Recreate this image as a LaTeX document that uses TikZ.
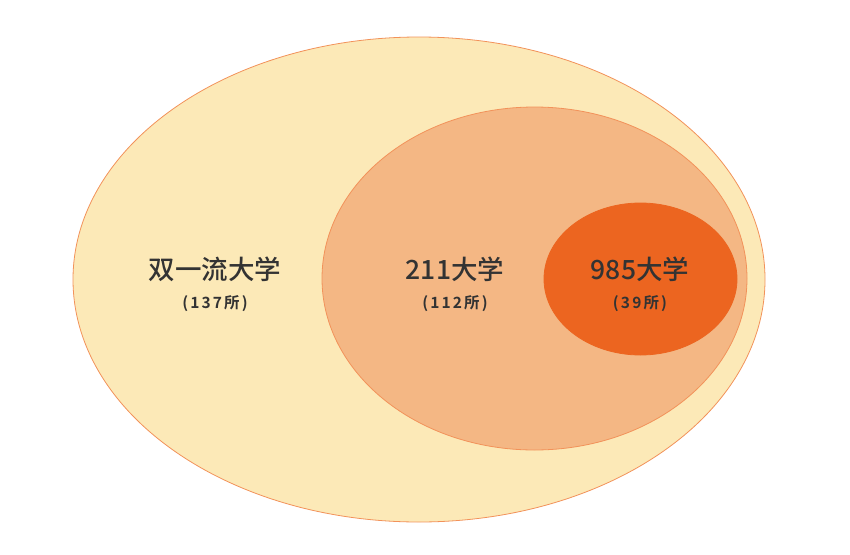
\documentclass[tikz,border=0pt]{standalone}
\usepackage{fontspec}
\newfontfamily\cjk{Noto Sans CJK SC}[BoldFont={Noto Sans CJK SC Medium}]
\newfontfamily\cjkheavy{Noto Sans CJK SC Bold}
\usetikzlibrary{shapes.geometric,positioning}
\definecolor{paleyellow}{HTML}{FCE9B7}
\definecolor{midorange}{HTML}{F4B784}
\definecolor{deeporange}{HTML}{EC6520}
\definecolor{rimorange}{HTML}{F2925A}
\definecolor{textgray}{HTML}{333333}
\tikzset{%
  ring/.style={ellipse,draw=rimorange,line width=0.8pt,inner sep=0pt},
  title/.style={font=\cjk\bfseries\fontsize{26.5}{30}\selectfont,text=textgray,inner sep=0pt},
  count/.style={font=\cjkheavy\fontsize{15.5}{18}\selectfont\addfontfeatures{LetterSpace=14},text=textgray,inner sep=0pt}
}
\begin{document}
\begin{tikzpicture}[x=1pt,y=-1pt]
	\useasboundingbox (0,0) rectangle (850,554);
	% nested sets
	\node[ring,fill=paleyellow,minimum width=692pt,minimum height=485pt] (syl) at (419,279.5) {};
	\node[ring,fill=midorange,minimum width=425pt,minimum height=343pt] (u211) at (534.5,278.5) {};
	\node[ring,fill=deeporange,draw=deeporange,minimum width=193pt,minimum height=152pt] (u985) at (640.5,279) {};
	% labels
	\node[title] (sylname) at (215,269) {双一流大学};
	\node[count] (sylnum) at (215,304) {(137所)};
	\node[title] (name211) at (455,269) {211大学};
	\node[count] (num211) at (455,304) {(112所)};
	\node[title] (name985) at (640,269) {985大学};
	\node[count] (num985) at (640,304) {(39所)};
\end{tikzpicture}
\end{document}
